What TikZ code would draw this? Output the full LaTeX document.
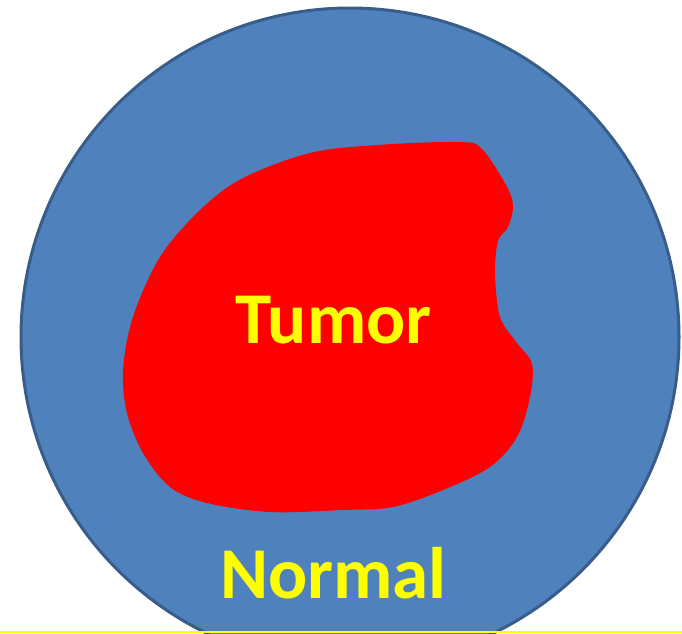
\documentclass[tikz,border=0pt]{standalone}
\usepackage{fontspec}
\setmainfont{Carlito}
\definecolor{normalfill}{HTML}{4F81BD}
\definecolor{normaledge}{HTML}{385D8A}
\definecolor{tumorred}{HTML}{FF0000}
\definecolor{labelyellow}{HTML}{FFFF00}
\tikzset{
  labeltext/.style={text=labelyellow, font=\fontsize{73}{80}\selectfont\bfseries, inner sep=0pt, anchor=base},
}
\begin{document}
\begin{tikzpicture}[x=1pt,y=-1pt]
\useasboundingbox (0,0) rectangle (682,633);
\begin{scope}
\clip (0,0) rectangle (682,633);
\draw[normaledge, line width=3pt, fill=normalfill] (350,337) circle [radius=329];
\fill[tumorred] plot[smooth cycle, tension=0.55] coordinates {
 (460,142) (482,149) (507,187) (513,207) (508,227) (498,241) (495,273)
 (500,317) (517,343) (532,364) (530,397) (517,437) (490,467) (443,490)
 (393,507) (343,510) (270,512) (207,503) (170,487) (143,453) (127,413)
 (123,370) (133,317) (160,257) (200,210) (243,178) (310,153) (377,145)};
\draw[labelyellow, line width=2pt] (0,632) -- (682,632);
\end{scope}
\node[labeltext] (tumor) at (333.5,343) {Tumor};
\node[labeltext] (normal) at (333.5,598) {Normal};
\end{tikzpicture}
\end{document}
